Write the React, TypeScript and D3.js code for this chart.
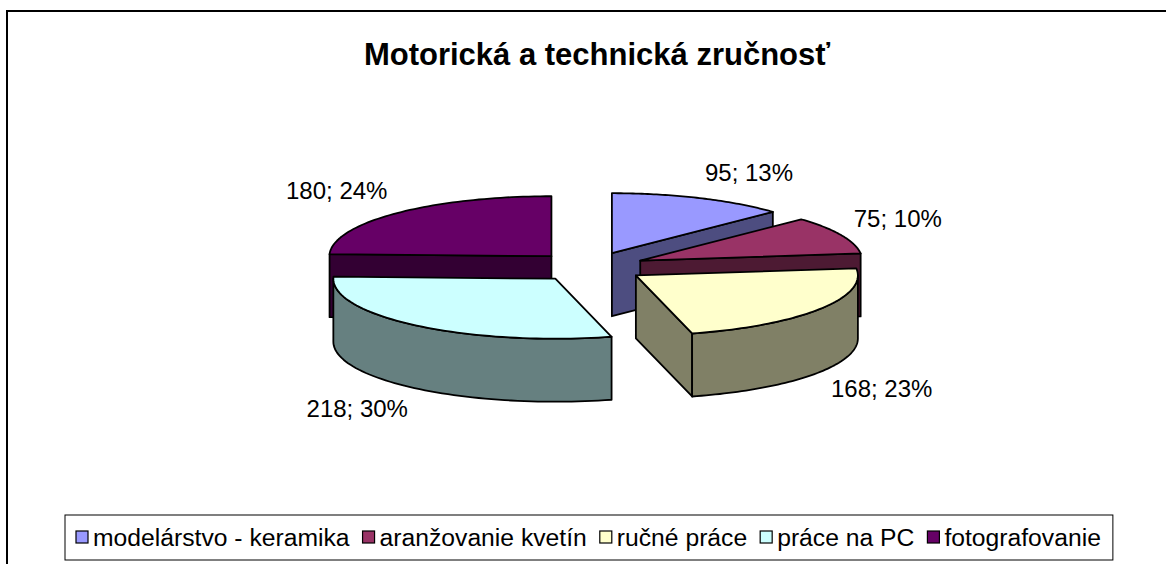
import React, { useEffect, useRef } from 'react';
import * as d3 from 'd3';

const title = 'Motorická a technická zručnosť';
const categories = ['modelárstvo - keramika', 'aranžovanie kvetín', 'ručné práce', 'práce na PC', 'fotografovanie'];
const values = [95, 75, 168, 218, 180];
const sliceColors = ['#9999FF', '#993366', '#FFFFCC', '#CCFFFF', '#660066'];

const W = 1166;
const H = 564;
const FONT = '"Liberation Sans", Arial, sans-serif';

const App: React.FC = () => {
  const svgRef = useRef<SVGSVGElement>(null);

  useEffect(() => {
    if (!svgRef.current) return;
    const svg = d3.select(svgRef.current);
    svg.selectAll('*').remove();

    // outer chart frame (runs past the right/bottom edge like the original)
    svg.append('rect')
      .attr('x', 7).attr('y', 11)
      .attr('width', W + 40).attr('height', H + 40)
      .attr('fill', '#fff').attr('stroke', '#000').attr('stroke-width', 2);

    svg.append('text')
      .attr('x', 597).attr('y', 65)
      .attr('text-anchor', 'middle')
      .attr('font-family', FONT).attr('font-weight', 'bold').attr('font-size', 31)
      .text(title);

    // 3D pie geometry
    const cx = 590, cy = 267, rx = 222, ry = 60, depth = 63, explode = 0.25;
    const total = d3.sum(values);
    const arcs = d3.pie<number>().sort(null).value(d => d)(values);
    const line = d3.line();
    const N = 60;

    const slices = arcs.map((a, i) => {
      const t0 = a.startAngle - Math.PI / 2;
      const t1 = a.endAngle - Math.PI / 2;
      const tm = (t0 + t1) / 2;
      const ox = cx + explode * rx * Math.cos(tm);
      const oy = cy + explode * ry * Math.sin(tm);
      const pt = (t: number, dy = 0): [number, number] => [ox + rx * Math.cos(t), oy + ry * Math.sin(t) + dy];
      const arcPts = (s: number, e: number, dy = 0) => d3.range(N + 1).map(k => pt(s + (e - s) * k / N, dy));
      return { i, t0, t1, tm, ox, oy, pt, arcPts };
    });

    const order = [...slices].sort((a, b) => a.oy - b.oy);
    const g = svg.append('g')
      .attr('stroke', '#000').attr('stroke-width', 1.8).attr('stroke-linejoin', 'round');

    order.forEach(s => {
      const top = sliceColors[s.i];
      const c = d3.rgb(top);
      const side = d3.rgb(c.r * 0.5, c.g * 0.5, c.b * 0.5).formatHex();
      const faces: [number, number][][] = [];
      if (Math.cos(s.t0) < -1e-6) {
        faces.push([[s.ox, s.oy], s.pt(s.t0), s.pt(s.t0, depth), [s.ox, s.oy + depth]]);
      }
      if (Math.cos(s.t1) > 1e-6) {
        faces.push([[s.ox, s.oy], s.pt(s.t1), s.pt(s.t1, depth), [s.ox, s.oy + depth]]);
      }
      const fs = Math.max(s.t0, 0), fe = Math.min(s.t1, Math.PI);
      if (fs < fe) {
        faces.push([...s.arcPts(fs, fe), ...s.arcPts(fs, fe, depth).reverse()]);
      }
      faces.forEach(f => {
        g.append('path').attr('d', line(f) + 'Z').attr('fill', side);
      });
      g.append('path')
        .attr('d', line([[s.ox, s.oy], ...s.arcPts(s.t0, s.t1)]) + 'Z')
        .attr('fill', top);
    });

    // data labels
    slices.forEach(s => {
      const cos = Math.cos(s.tm), sin = Math.sin(s.tm);
      const front = sin > 0;
      const [ex, ey] = s.pt(s.tm, front ? depth : 0);
      const gx = 14 * Math.abs(cos);
      const x = cos >= 0 ? ex + gx : ex - gx;
      const y = front ? ey + 14 * sin + 17 : ey - 19 * Math.abs(sin);
      const pct = Math.round((values[s.i] / total) * 100);
      svg.append('text')
        .attr('x', x).attr('y', y)
        .attr('text-anchor', cos >= 0 ? 'start' : 'end')
        .attr('font-family', FONT).attr('font-size', 24)
        .text(`${values[s.i]}; ${pct}%`);
    });

    // legend
    const lg = svg.append('g');
    const box = lg.append('rect')
      .attr('x', 65).attr('y', 515).attr('height', 45)
      .attr('fill', '#fff').attr('stroke', '#000').attr('stroke-width', 1);
    let lx = 76;
    categories.forEach((name, i) => {
      lg.append('rect')
        .attr('x', lx).attr('y', 531).attr('width', 12).attr('height', 12)
        .attr('fill', sliceColors[i]).attr('stroke', '#000').attr('stroke-width', 1.2);
      const t = lg.append('text')
        .attr('x', lx + 17).attr('y', 546)
        .attr('font-family', FONT).attr('font-size', 24.7)
        .text(name);
      const w = (t.node() as SVGTextElement).getComputedTextLength();
      lx = lx + 17 + w + 13;
    });
    box.attr('width', lx - 13 + 12 - 65);
  }, []);

  return (
    <div style={{ position: 'absolute', left: 0, top: 0, width: W, height: H, overflow: 'hidden', background: '#fff' }}>
      <svg ref={svgRef} width={W} height={H}></svg>
    </div>
  );
};

export default App;
